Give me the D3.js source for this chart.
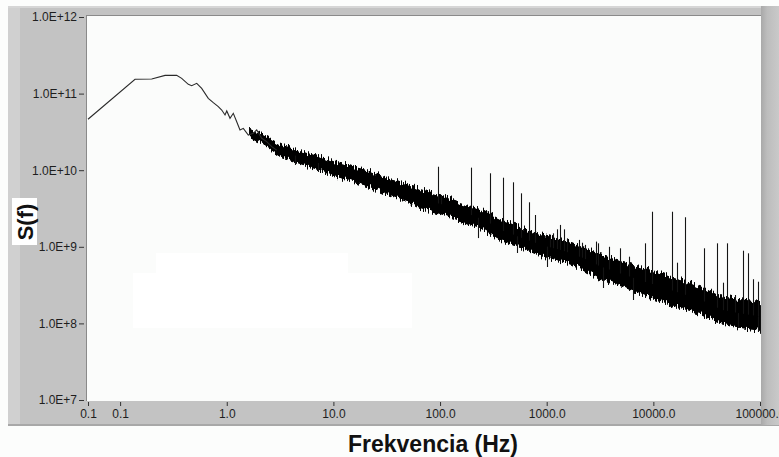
<!DOCTYPE html>
<html>
<head>
<meta charset="utf-8">
<script src="https://cdn.jsdelivr.net/npm/d3@7"></script>
<style>
  html, body { margin: 0; padding: 0; background: #fcfdfc; }
  svg { display: block; }
</style>
</head>
<body>
<svg id="chart" width="779" height="457"></svg>
<script>
// ---------- DATA ----------
// Low-frequency single trace
const lowFreq = [0.05, 0.138, 0.198, 0.264, 0.339, 0.378, 0.436, 0.469, 0.523, 0.582, 0.671, 0.748, 0.833, 0.897, 0.963, 1.0, 1.073, 1.152, 1.24, 1.331, 1.43, 1.593, 1.774, 1.909, 2.127, 2.369, 2.639, 2.94];
const lowS = [4.62e10, 1.54e11, 1.55e11, 1.73e11, 1.73e11, 1.58e11, 1.32e11, 1.27e11, 1.36e11, 1.17e11, 8.68e10, 7.61e10, 6.75e10, 6.11e10, 5.26e10, 5.93e10, 4.76e10, 5.53e10, 4.30e10, 3.35e10, 3.52e10, 2.88e10, 3.03e10, 3.35e10, 2.61e10, 2.36e10, 2.03e10, 1.83e10];

// Noisy band: upper and lower envelope
const bandFreq = [1.65, 2.28, 3.37, 4.86, 6.72, 10, 14.3, 22.0, 33.9, 52.3, 64.9, 100, 154, 237, 365, 562, 865, 1332, 2052, 3160, 4867, 7496, 11540, 17780, 27380, 42160, 64940, 100000];
const bandUpper = [3.25e10, 2.71e10, 2.07e10, 1.73e10, 1.53e10, 1.28e10, 1.13e10, 9.47e9, 7.45e9, 6.22e9, 5.51e9, 4.75e9, 3.73e9, 3.02e9, 2.24e9, 1.76e9, 1.43e9, 1.23e9, 9.94e8, 7.82e8, 6.33e8, 5.29e8, 4.55e8, 3.69e8, 2.99e8, 2.21e8, 2.02e8, 1.85e8];
const bandLower = [2.71e10, 2.13e10, 1.49e10, 1.24e10, 1.07e10, 8.66e9, 7.45e9, 6.22e9, 4.75e9, 3.84e9, 3.31e9, 2.76e9, 2.24e9, 1.81e9, 1.23e9, 9.94e8, 7.82e8, 6.73e8, 5.45e8, 3.91e8, 3.17e8, 2.49e8, 2.02e8, 1.64e8, 1.37e8, 1.04e8, 8.97e7, 8.20e7];

// Narrow peaks above the band: [frequency, peak value]
const spikes = [
  [96.3, 1.11e10], [101.4, 4.75e9], [194, 1.08e10], [292, 9.11e9], [389, 7.98e9], [483, 6.95e9],
  [574, 4.99e9], [682, 3.81e9], [772, 2.60e9], [1074, 1.38e9], [1153, 1.50e9], [1241, 1.69e9],
  [1332, 1.93e9], [1443, 1.69e9], [1540, 1.29e9], [2021, 1.23e9], [2129, 1.13e9], [2287, 1.06e9],
  [2899, 1.17e9], [3047, 1.11e9], [3863, 1.00e9], [4867, 9.56e8], [5910, 7.43e8], [8404, 1.11e9],
  [9712, 2.87e9], [14960, 2.87e9], [16550, 6.20e8], [19670, 2.43e9], [29660, 9.56e8], [39260, 1.11e9],
  [45290, 3.40e8], [48720, 1.11e9], [58290, 2.35e8], [68820, 8.89e8], [77200, 8.22e8], [86500, 3.77e8],
  [96400, 3.50e8]
];
// Downward dips below the band: [frequency, minimum value]
const dips = [
  [4.36, 1.17e10], [7.17, 9.47e9], [227, 1.30e9], [527, 8.30e8], [1007, 5.45e8],
  [3373, 2.90e8], [6446, 2.02e8], [62190, 8.71e7], [95800, 7.72e7]
];

const xTickValues = [0.05, 0.1, 1, 10, 100, 1000, 10000, 100000];
const xTickLabels = ["0.1", "0.1", "1.0", "10.0", "100.0", "1000.0", "10000.0", "100000.0"];
const yTickValues = [1e7, 1e8, 1e9, 1e10, 1e11, 1e12];
const yTickLabels = ["1.0E+7", "1.0E+8", "1.0E+9", "1.0E+10", "1.0E+11", "1.0E+12"];
const xTitle = "Frekvencia (Hz)";
const yTitle = "S(f)";

// ---------- LAYOUT ----------
const svg = d3.select("#chart");
const W = 779, H = 457;
const plot = { left: 88, right: 760, top: 17, bottom: 400 };

const x = d3.scaleLog().domain([0.05, 100000]).range([plot.left, plot.right]);
const y = d3.scaleLog().domain([1e7, 1e12]).range([plot.bottom, plot.top]);

svg.append("rect").attr("x", 0).attr("y", 0).attr("width", W).attr("height", H).attr("fill", "#fcfdfc");

const defs = svg.append("defs");
const gR = defs.append("linearGradient").attr("id", "rightGrad").attr("x1", 0).attr("x2", 1).attr("y1", 0).attr("y2", 0);
gR.append("stop").attr("offset", "0%").attr("stop-color", "#a9a9a9");
gR.append("stop").attr("offset", "35%").attr("stop-color", "#bdbdbd");
gR.append("stop").attr("offset", "100%").attr("stop-color", "#c9c9c9");

// roughness filter for the dense noisy band edges (vertical-only displacement)
const flt = defs.append("filter").attr("id", "rough")
  .attr("x", "-1%").attr("y", "-30%").attr("width", "102%").attr("height", "160%")
  .attr("color-interpolation-filters", "sRGB");
flt.append("feTurbulence").attr("type", "fractalNoise").attr("baseFrequency", "0.7 0.012")
  .attr("numOctaves", 2).attr("seed", 7).attr("result", "noise");
flt.append("feColorMatrix").attr("in", "noise").attr("type", "matrix")
  .attr("values", "0 0 0 0 0.5  0 2.4 0 0 -0.7  0 0 0 0 0  0 0 0 0 1").attr("result", "map");
flt.append("feDisplacementMap").attr("in", "SourceGraphic").attr("in2", "map")
  .attr("scale", 6).attr("xChannelSelector", "R").attr("yChannelSelector", "G").attr("result", "disp");
flt.append("feMerge").call(m => { m.append("feMergeNode").attr("in", "disp"); m.append("feMergeNode").attr("in", "disp"); });

// gray panel
svg.append("rect").attr("x", 8).attr("y", 6).attr("width", W - 8).attr("height", 419).attr("fill", "#c3c3c3");
svg.append("rect").attr("x", 8).attr("y", 6).attr("width", 12).attr("height", 419).attr("fill", "#d0d0d0");
svg.append("rect").attr("x", 8).attr("y", 6).attr("width", W - 8).attr("height", 2).attr("fill", "#d6d6d6");
svg.append("rect").attr("x", 8).attr("y", 424).attr("width", W - 8).attr("height", 2).attr("fill", "#a8a8a8");
svg.append("rect").attr("x", 761).attr("y", 6).attr("width", 18).attr("height", 419).attr("fill", "url(#rightGrad)");

// plot area
svg.append("rect").attr("x", 87).attr("y", 16).attr("width", 674).attr("height", 385).attr("fill", "#fbfcfb");
svg.append("line").attr("x1", 86.5).attr("x2", 86.5).attr("y1", 16).attr("y2", 401).attr("stroke", "#8a8a8a");
svg.append("line").attr("x1", 86).attr("x2", 761).attr("y1", 15.5).attr("y2", 15.5).attr("stroke", "#8a8a8a");
svg.append("rect").attr("x", 133).attr("y", 273).attr("width", 279).attr("height", 55).attr("fill", "#ffffff");
svg.append("rect").attr("x", 156).attr("y", 253).attr("width", 192).attr("height", 20).attr("fill", "#ffffff");

svg.append("clipPath").attr("id", "plotClip").append("rect")
  .attr("x", 87).attr("y", 16).attr("width", 674).attr("height", 385);
const g = svg.append("g").attr("clip-path", "url(#plotClip)");

// band
const bandData = bandFreq.map((f, i) => ({ f, hi: bandUpper[i], lo: bandLower[i] }));
g.append("path")
  .datum(bandData)
  .attr("fill", "#000")
  .attr("stroke", "#000")
  .attr("stroke-width", 1.5)
  .attr("filter", "url(#rough)")
  .attr("d", d3.area().x(d => x(d.f)).y0(d => y(d.lo)).y1(d => y(d.hi)));

const upperAt = d3.scaleLog().domain(bandFreq).range(bandUpper).clamp(true);
const lowerAt = d3.scaleLog().domain(bandFreq).range(bandLower).clamp(true);

g.selectAll("line.spike").data(spikes).join("line")
  .attr("class", "spike")
  .attr("x1", d => Math.round(x(d[0])) + 0.5).attr("x2", d => Math.round(x(d[0])) + 0.5)
  .attr("y1", d => y(d[1]))
  .attr("y2", d => y(Math.sqrt(upperAt(d[0]) * lowerAt(d[0]))))
  .attr("stroke", "#141414").attr("stroke-width", 1.1);

g.selectAll("line.dip").data(dips).join("line")
  .attr("class", "dip")
  .attr("x1", d => Math.round(x(d[0])) + 0.5).attr("x2", d => Math.round(x(d[0])) + 0.5)
  .attr("y1", d => y(d[1]))
  .attr("y2", d => y(Math.sqrt(upperAt(d[0]) * lowerAt(d[0]))))
  .attr("stroke", "#141414").attr("stroke-width", 1.1);

// low-frequency trace
g.append("path")
  .datum(lowFreq.map((f, i) => [f, lowS[i]]))
  .attr("fill", "none")
  .attr("stroke", "#2a2a2a")
  .attr("stroke-width", 1.1)
  .attr("d", d3.line().x(d => x(d[0])).y(d => y(d[1])));

// ---------- AXES ----------
const font = "Liberation Sans, Arial, sans-serif";
const xAxis = d3.axisBottom(x).tickValues(xTickValues)
  .tickFormat((d, i) => xTickLabels[i]).tickSize(4).tickPadding(3);
const xg = svg.append("g").attr("transform", `translate(0,${plot.bottom + 2})`).call(xAxis);
xg.select(".domain").remove();
xg.selectAll(".tick line").attr("stroke", "#333");
xg.selectAll(".tick text").attr("font-family", font).attr("font-size", 12).attr("fill", "#1e1e1e");

const yAxis = d3.axisLeft(y).tickValues(yTickValues)
  .tickFormat((d, i) => yTickLabels[i]).tickSize(5).tickPadding(2);
const yg = svg.append("g").attr("transform", `translate(${plot.left - 4},0)`).call(yAxis);
yg.select(".domain").remove();
yg.selectAll(".tick line").attr("stroke", "#333");
yg.selectAll(".tick text").attr("font-family", font).attr("font-size", 12).attr("fill", "#1e1e1e");

// titles
svg.append("text")
  .attr("x", 433).attr("y", 452)
  .attr("text-anchor", "middle")
  .attr("font-family", font).attr("font-weight", "bold").attr("font-size", 23)
  .attr("fill", "#111")
  .text(xTitle);

svg.append("rect").attr("x", 12).attr("y", 198).attr("width", 25).attr("height", 47).attr("fill", "#ffffff");
svg.append("text")
  .attr("transform", "translate(33,222) rotate(-90)")
  .attr("text-anchor", "middle")
  .attr("font-family", font).attr("font-weight", "bold").attr("font-size", 22)
  .attr("fill", "#111")
  .text(yTitle);
</script>
</body>
</html>
